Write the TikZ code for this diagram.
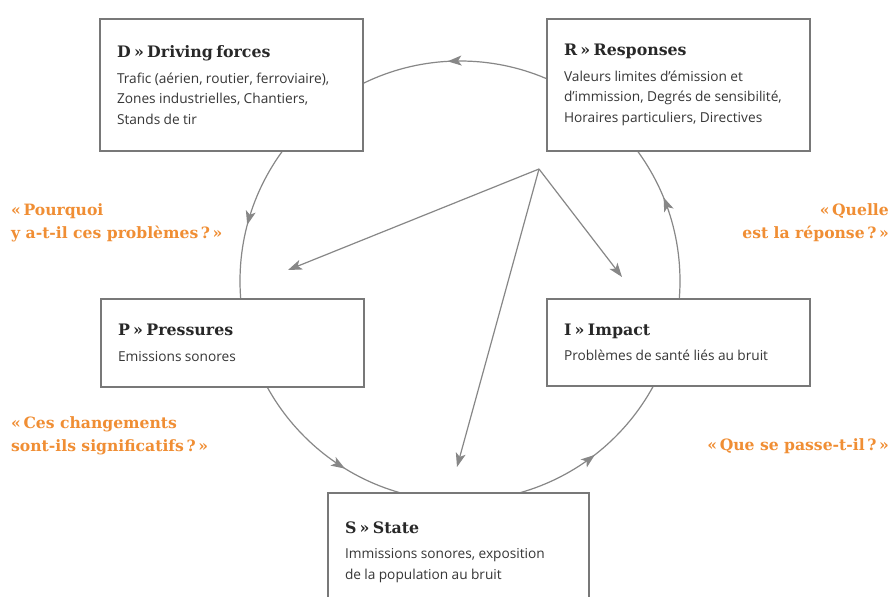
\documentclass[tikz,border=0pt]{standalone}
\usepackage{fontspec}
\usetikzlibrary{arrows.meta,decorations.markings}
\newfontfamily\dpsirtitlefont{DejaVu Serif}
\newfontfamily\dpsirbodyfont{Open Sans}
\definecolor{linegray}{RGB}{135,135,135}
\definecolor{boxgray}{RGB}{120,120,120}
\definecolor{qorange}{RGB}{240,142,52}
\definecolor{titleink}{RGB}{40,40,40}
\definecolor{bodyink}{RGB}{55,55,55}
% title line and body lines of one DPSIR box
\newcommand{\dpsirtext}[2]{%
  {\dpsirtitlefont\bfseries\fontsize{15.8}{18}\selectfont\color{titleink}#1\par}%
  \vspace{5pt}%
  {\dpsirbodyfont\fontsize{13.7}{20.5}\selectfont\color{bodyink}#2\par}}
\tikzset{
  dpsirbox/.style={draw=boxgray, line width=1.4pt, fill=white, rectangle,
    align=left, text width=229pt, inner xsep=17pt, inner ysep=0pt},
  spoke/.style={draw=linegray, line width=1.2pt,
    -{Stealth[length=14pt,width=10pt,inset=3.5pt]}},
  cycleline/.style={draw=linegray, line width=1.2pt},
  cyclearrow/.style={decoration={markings,
      mark=at position #1 with {\arrow[linegray]{Stealth[length=14pt,width=10pt,inset=3.5pt]}}}},
  question/.style={text=qorange, font=\dpsirtitlefont\bfseries\fontsize{15.6}{23}\selectfont,
    inner sep=0pt}
}
\begin{document}
\begin{tikzpicture}[x=1pt,y=-1pt]
  \useasboundingbox (0,0) rectangle (892,597);
  \clip (0,0) rectangle (892,597);
  \fill[white] (0,0) rectangle (892,597);

  % the DPSIR cycle, flowing D -> P -> S -> I -> R -> D
  \draw[cycleline,
      postaction={decorate, cyclearrow=0.062},
      postaction={decorate, cyclearrow=0.259},
      postaction={decorate, cyclearrow=0.459},
      postaction={decorate, cyclearrow=0.6625},
      postaction={decorate, cyclearrow=0.855}]
    (680,281) arc[start angle=360, end angle=0, radius=220];

  % boxes
  \node[dpsirbox, minimum height=132pt] (D) at (231.5,85)
    {\dpsirtext{D » Driving forces}{Trafic (aérien, routier, ferroviaire),\\Zones industrielles, Chantiers,\\Stands de tir}};
  \node[dpsirbox, minimum height=132pt] (R) at (678.5,85)
    {\dpsirtext{R » Responses}{Valeurs limites d’émission et\\d’immission, Degrés de sensibilité,\\Horaires particuliers, Directives}};
  \node[dpsirbox, minimum height=88pt] (P) at (232.5,343)
    {\dpsirtext{P » Pressures}{Emissions sonores}};
  \node[dpsirbox, minimum height=87pt] (I) at (678.5,342.5)
    {\dpsirtext{I » Impact}{Problèmes de santé liés au bruit}};
  \node[dpsirbox, minimum height=118pt, text width=227pt] (S) at (458.5,552)
    {\dpsirtext{S » State}{Immissions sonores, exposition\\de la population au bruit}};

  % responses acting on pressures, state and impact
  \coordinate (hub) at (539,169);
  \coordinate (toP) at (288,270);
  \coordinate (toS) at (457,467);
  \coordinate (toI) at (622,277);
  \draw[spoke] (hub) -- (toP);
  \draw[spoke] (hub) -- (toS);
  \draw[spoke] (hub) -- (toI);

  % guiding questions
  \node[question, anchor=west, align=left] (qD) at (11,222.5)
    {«\,Pourquoi\\y a-t-il ces problèmes\,?\,»};
  \node[question, anchor=east, align=right] (qR) at (889,222.5)
    {«\,Quelle\\est la réponse\,?\,»};
  \node[question, anchor=west, align=left] (qP) at (11,436)
    {«\,Ces changements\\sont-ils significatifs\,?\,»};
  \node[question, anchor=east, align=right] (qI) at (889,446)
    {«\,Que se passe-t-il\,?\,»};
\end{tikzpicture}
\end{document}
